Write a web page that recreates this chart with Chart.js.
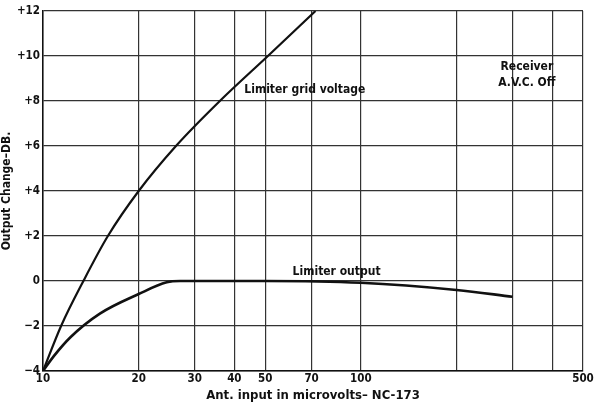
<!DOCTYPE html>
<html>
<head>
<meta charset="utf-8">
<script src="https://cdn.jsdelivr.net/npm/chart.js@4/dist/chart.umd.min.js"></script>
<style>
  html, body { margin: 0; padding: 0; background: #fff; }
  canvas { display: block; }
</style>
</head>
<body>
<canvas id="chart" width="598" height="405"></canvas>
<script>
// antenna input (microvolts) vs. output change (dB)
const gridVoltageIn = [10, 11.4, 13.4, 16, 20, 26.2, 36, 51, 72];
const gridVoltageDb = [-4, -2, 0, 2, 4, 6, 8, 10, 12];

const outputIn = [10, 10.8, 12.2, 15.1, 20, 24.5, 27, 50, 100, 200, 300];
const outputDb = [-4, -3.35, -2.5, -1.45, -0.58, -0.06, 0, 0, -0.08, -0.4, -0.7];

const xGrid = [10, 20, 30, 40, 50, 70, 100, 200, 300, 400, 500];
const xLabels = [10, 20, 30, 40, 50, 70, 100, 500];

const FONT = '"Liberation Sans Narrow", "DejaVu Sans Condensed", "Liberation Sans", sans-serif';
const INK = "#111";

function toPoints(xs, ys) {
    return xs.map((x, i) => ({ x: x, y: ys[i] }));
}

// notes written onto the plot, placed in data units
const notes = [
    { text: "Limiter grid voltage", x: 43, y: 8.5, align: "left" },
    { text: "Receiver", x: 333, y: 9.5, align: "center" },
    { text: "A.V.C. Off", x: 333, y: 8.8, align: "center" },
    { text: "Limiter output", x: 61, y: 0.42, align: "left" }
];

const notesPlugin = {
    id: "notes",
    afterDatasetsDraw(chart) {
        const ctx = chart.ctx;
        const xs = chart.scales.x;
        const ys = chart.scales.y;
        ctx.save();
        ctx.fillStyle = INK;
        ctx.font = "bold 12px " + FONT;
        ctx.textBaseline = "middle";
        notes.forEach(n => {
            ctx.textAlign = n.align;
            ctx.fillText(n.text, xs.getPixelForValue(n.x), ys.getPixelForValue(n.y));
        });
        ctx.restore();
    }
};

new Chart(document.getElementById("chart"), {
    type: "line",
    data: {
        datasets: [
            {
                label: "Limiter grid voltage",
                data: toPoints(gridVoltageIn, gridVoltageDb),
                borderColor: INK,
                borderWidth: 2.2,
                pointRadius: 0,
                cubicInterpolationMode: "monotone"
            },
            {
                label: "Limiter output",
                data: toPoints(outputIn, outputDb),
                borderColor: INK,
                borderWidth: 2.6,
                pointRadius: 0,
                cubicInterpolationMode: "monotone"
            }
        ]
    },
    options: {
        responsive: false,
        animation: false,
        layout: { padding: { top: 11, right: 15, left: 0, bottom: 0 } },
        plugins: {
            legend: { display: false },
            tooltip: { enabled: false }
        },
        scales: {
            x: {
                type: "logarithmic",
                min: 10,
                max: 500,
                afterBuildTicks(scale) {
                    scale.ticks = xGrid.map(v => ({ value: v }));
                },
                afterFit(scale) {
                    scale.height = 34;
                },
                ticks: {
                    autoSkip: false,
                    maxRotation: 0,
                    padding: 1,
                    color: INK,
                    font: { family: FONT, size: 11.5, weight: "bold" },
                    callback: v => xLabels.includes(v) ? String(v) : ""
                },
                grid: { color: "#333", lineWidth: 1.2, drawTicks: false },
                border: { color: INK, width: 1.5 },
                title: {
                    display: true,
                    text: "Ant. input in microvolts\u2013 NC-173",
                    color: INK,
                    padding: { top: 0, bottom: 2 },
                    font: { family: FONT, size: 13, weight: "bold" }
                }
            },
            y: {
                min: -4,
                max: 12,
                afterFit(scale) {
                    scale.width = 43;
                },
                ticks: {
                    stepSize: 2,
                    padding: 3,
                    color: INK,
                    font: { family: FONT, size: 11.5, weight: "bold" },
                    callback: v => v > 0 ? "+" + v : (v < 0 ? "\u2212" + Math.abs(v) : "0")
                },
                grid: { color: "#333", lineWidth: 1.2, drawTicks: false },
                border: { color: INK, width: 1.5 },
                title: {
                    display: true,
                    text: "Output Change\u2013DB.",
                    color: INK,
                    padding: { top: 0, bottom: 0 },
                    font: { family: FONT, size: 12, weight: "bold" }
                }
            }
        }
    },
    plugins: [notesPlugin]
});
</script>
</body>
</html>
